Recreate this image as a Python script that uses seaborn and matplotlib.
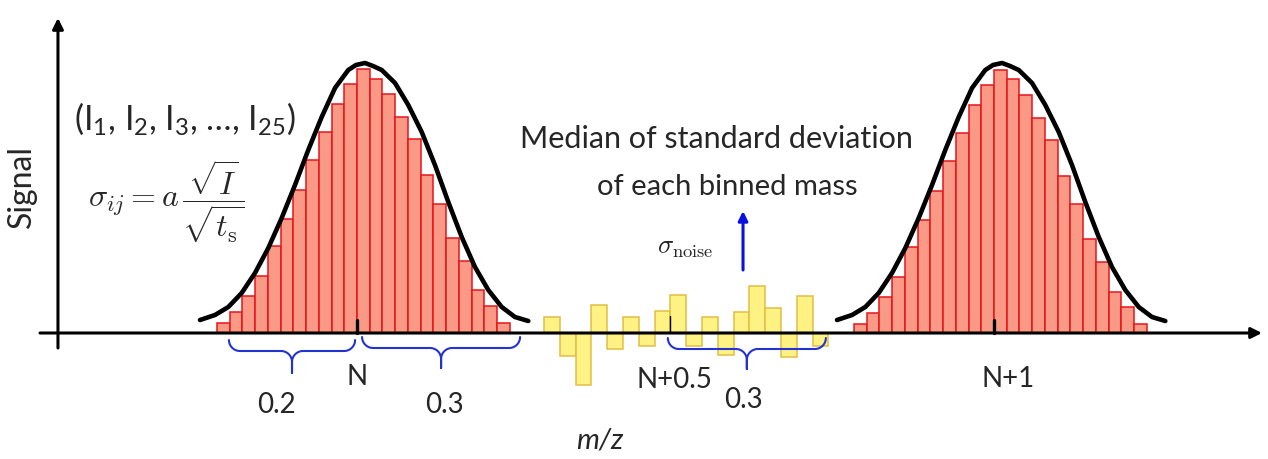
import numpy as np
import matplotlib.pyplot as plt
import seaborn as sns

# m/z offset from the nominal mass N (bin centres) and binned signal
peak_mz = [-0.21, -0.19, -0.17, -0.15, -0.13, -0.11, -0.09, -0.07, -0.05, -0.03, -0.01, 0.01,
           0.03, 0.05, 0.07, 0.09, 0.11, 0.13, 0.15, 0.17, 0.19, 0.21, 0.23]
peak_n = [10, 21, 37, 57, 87, 114, 143, 173, 201, 229, 249, 264,
          254, 239, 216, 194, 158, 129, 95, 72, 43, 27, 10]
peak_n1 = [9, 20, 36, 56, 86, 113, 142, 172, 200, 228, 248, 263,
           254, 238, 215, 193, 157, 129, 94, 71, 41, 26, 9]

# noise between the two peaks
noise_mz = [0.306, 0.331, 0.356, 0.380, 0.405, 0.430, 0.455, 0.480, 0.504,
            0.529, 0.554, 0.579, 0.604, 0.628, 0.653, 0.678, 0.703, 0.728]
noise = [16, -23, -52, 28, -16, 16, -13, 22, 38, -13, 16, -22, 21, 47, 25, -24, 37, -13]

# gaussian envelope drawn over each peak
curve_mz = [-0.2465, -0.2229, -0.2020, -0.1810, -0.1601, -0.1392, -0.1182, -0.0973, -0.0765,
            -0.0554, -0.0345, -0.0137, -0.0016, 0.0126, 0.0251, 0.0388, 0.0597, 0.0805, 0.1016,
            0.1224, 0.1433, 0.1644, 0.1852, 0.2061, 0.2272, 0.2480, 0.2689]
curve_sig = [13, 18, 26, 40, 60, 85, 115, 148, 183,
             216, 245, 263, 268, 270, 267, 263, 250, 228, 201,
             168, 131, 96, 66, 43, 26, 16, 12]

PX = 637.0  # pixels per m/z unit, used for brace radii


def brace(ax, x0, x1, ytop, ymid, ytip, r=11, color='#2233D0'):
    """Curly brace under the axis, opening upward"""
    xc = (x0 + x1) / 2
    rx = r / PX
    t = np.linspace(0, np.pi / 2, 20)
    lx = x0 + rx - rx * np.cos(t)
    ly = np.clip(ymid + r - r * np.sin(t), None, ytop)
    cx1 = xc - rx + rx * np.sin(t)
    cy1 = ymid - r + r * np.cos(t)
    cx2 = xc + rx - rx * np.sin(t[::-1])
    cy2 = ymid - r + r * np.cos(t[::-1])
    rxs = x1 - rx + rx * np.cos(t[::-1])
    rys = np.clip(ymid + r - r * np.sin(t[::-1]), None, ytop)
    xs = np.concatenate([lx, cx1, [xc, xc], cx2, rxs])
    ys = np.concatenate([ly, cy1, [ytip, ymid - r], cy2, rys])
    ax.plot(xs, ys, color=color, lw=1.5, solid_capstyle='round', zorder=4)


sns.set_style('white')
plt.rcParams['font.family'] = ['Lato', 'DejaVu Sans']
plt.rcParams['mathtext.fontset'] = 'custom'
plt.rcParams['mathtext.rm'] = 'Lato'
plt.rcParams['mathtext.it'] = 'Lato:italic'

fig = plt.figure(figsize=(12.68, 4.59), dpi=100)
ax = fig.add_axes([0, 0, 1, 1])

red_face, red_edge = '#FA9A86', '#E8141A'
yel_face, yel_edge = '#FFF284', '#E2BE45'

sns.histplot(x=peak_mz, weights=peak_n, bins=23, binrange=(-0.22, 0.24), ax=ax,
             color=red_face, edgecolor=red_edge, linewidth=1.1, alpha=1, zorder=2)
sns.histplot(x=[m + 1 for m in peak_mz], weights=peak_n1, bins=23, binrange=(0.78, 1.24), ax=ax,
             color=red_face, edgecolor=red_edge, linewidth=1.1, alpha=1, zorder=2)
sns.histplot(x=noise_mz, weights=noise, bins=18, binrange=(0.2936, 0.74), ax=ax,
             color=yel_face, edgecolor=yel_edge, linewidth=1.1, alpha=1, zorder=2)

for off in (0, 1):
    sns.lineplot(x=[m + off for m in curve_mz], y=curve_sig, ax=ax, color='black', lw=3.3,
                 sort=False, estimator=None, zorder=3, solid_joinstyle='round',
                 solid_capstyle='round')

# axes drawn as arrows
ax.annotate('', xy=(1.4207, 0), xytext=(-0.4976, 0),
            arrowprops=dict(arrowstyle='-|>', color='black', lw=2.2, mutation_scale=16,
                            shrinkA=0, shrinkB=0), zorder=5)
ax.annotate('', xy=(-0.4694, 315), xytext=(-0.4694, -15),
            arrowprops=dict(arrowstyle='-|>', color='black', lw=2.2, mutation_scale=16,
                            shrinkA=0, shrinkB=0), zorder=5)

# centre ticks
ax.plot([0, 0], [0, 13], color='black', lw=2.4, zorder=5)
ax.plot([1, 1], [0, 13], color='black', lw=2.4, zorder=5)
ax.plot([0.491, 0.491], [0, 17], color='black', lw=1.0, zorder=5)

# braces
brace(ax, -0.201, -0.003, -5, -18, -40)
brace(ax, 0.008, 0.256, -4, -15, -35)
brace(ax, 0.488, 0.736, -1, -16, -36)

# blue arrow for sigma_noise
ax.annotate('', xy=(0.606, 122), xytext=(0.606, 63),
            arrowprops=dict(arrowstyle='-|>', color='#0A10E0', lw=2.2, mutation_scale=14,
                            shrinkA=0, shrinkB=0))

fs = 20
ax.text(-0.526, 146, 'Signal', rotation=90, ha='center', va='center', fontsize=23)
ax.text(-0.270, 203, '(I$_1$, I$_2$, I$_3$, …, I$_{25}$)', ha='center', va='baseline', fontsize=24.5)
ax.text(-0.300, 131, r'$\sigma_{ij} = a\,\dfrac{\sqrt{I}}{\sqrt{t_{\rm s}}}$', ha='center', va='center',
        fontsize=23, math_fontfamily='cm')
ax.text(0.564, 185, 'Median of standard deviation', ha='center', va='baseline', fontsize=22)
ax.text(0.581, 138, 'of each binned mass', ha='center', va='baseline', fontsize=21)
ax.text(0.516, 86, r'$\sigma_{\rm noise}$', ha='center', va='center', fontsize=19, math_fontfamily='cm')

ax.text(0, -52, 'N', ha='center', va='baseline', fontsize=fs)
ax.text(-0.127, -80, '0.2', ha='center', va='baseline', fontsize=fs)
ax.text(0.137, -80, '0.3', ha='center', va='baseline', fontsize=fs)
ax.text(0.499, -55, 'N+0.5', ha='center', va='baseline', fontsize=fs)
ax.text(0.606, -75, '0.3', ha='center', va='baseline', fontsize=fs)
ax.text(1.022, -54, 'N+1', ha='center', va='baseline', fontsize=fs)
ax.text(0.381, -115, 'm/z', ha='center', va='baseline', fontsize=21, style='italic')

ax.set_xlim(-0.5604, 1.4301)
ax.set_ylim(-126, 333)
ax.axis('off')

fig.savefig('out.png', dpi=100)
